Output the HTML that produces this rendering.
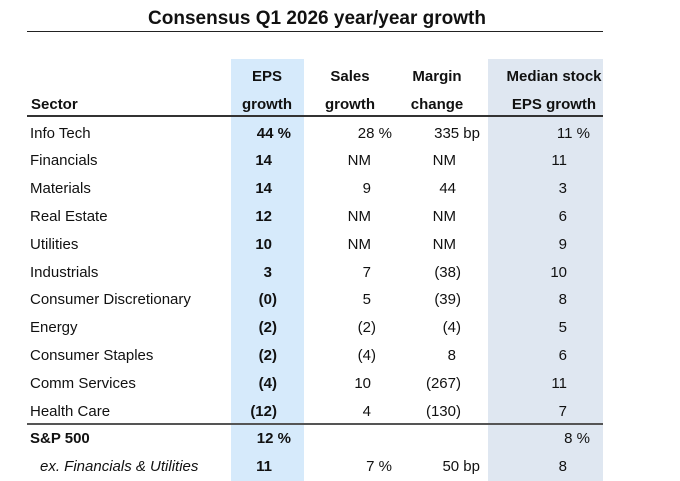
<!DOCTYPE html>
<html><head><meta charset="utf-8"><style>
body{margin:0;width:680px;height:481px;background:#fff;position:relative;overflow:hidden;font-family:"Liberation Sans",Arial,sans-serif;color:#111;font-size:15px}
.a{position:absolute;white-space:nowrap}
.r{position:absolute;white-space:nowrap;text-align:right}
.b{font-weight:bold}
.h{position:absolute;font-weight:bold;text-align:center;white-space:nowrap;font-size:15px}
</style></head><body>
<div class="a b" style="left:0;width:634px;text-align:center;top:8px;font-size:19px">Consensus Q1 2026 year/year growth</div>
<div class="a" style="left:27px;top:31px;width:576px;height:1px;background:#222"></div>
<div class="a" style="left:231px;top:59px;width:73px;height:422px;background:#d6eafb"></div>
<div class="a" style="left:488px;top:59px;width:115px;height:422px;background:#dfe7f1"></div>
<div class="h" style="left:227px;width:80px;top:68px">EPS</div>
<div class="h" style="left:227px;width:80px;top:96px">growth</div>
<div class="h" style="left:310px;width:80px;top:68px">Sales</div>
<div class="h" style="left:310px;width:80px;top:96px">growth</div>
<div class="h" style="left:397px;width:80px;top:68px">Margin</div>
<div class="h" style="left:397px;width:80px;top:96px">change</div>
<div class="h" style="left:494px;width:120px;top:68px">Median stock</div>
<div class="h" style="left:494px;width:120px;top:96px">EPS growth</div>
<div class="a b" style="left:31px;top:96px">Sector</div>
<div class="a" style="left:27px;top:115px;width:576px;height:2px;background:#333"></div>
<div class="a" style="left:27px;top:423px;width:576px;height:2px;background:#555"></div>
<div id="rows"></div>
<script>
var rows=[
["Info Tech","44 %","28 %","335 bp","11 %"],
["Financials","14","NM","NM","11"],
["Materials","14","9","44","3"],
["Real Estate","12","NM","NM","6"],
["Utilities","10","NM","NM","9"],
["Industrials","3","7","(38)","10"],
["Consumer Discretionary","(0)","5","(39)","8"],
["Energy","(2)","(2)","(4)","5"],
["Consumer Staples","(2)","(4)","8","6"],
["Comm Services","(4)","10","(267)","11"],
["Health Care","(12)","4","(130)","7"]];
var edges=[272,371,456,567],pct=[291,392,480,590];
var out="";
function cell(v,i,y,bold){
 if(v==="")return;
 var e=edges[i];
 if(/%|bp/.test(v))e=pct[i];else if(v.indexOf(")")>=0)e+=5;
 out+='<div class="r'+(bold?' b':'')+'" style="right:'+(680-e)+'px;top:'+y+'px">'+v+'</div>';
}
rows.forEach(function(r,k){
 var y=124.5+k*27.8;
 out+='<div class="a" style="left:30px;top:'+y+'px">'+r[0]+'</div>';
 for(var i=1;i<5;i++)cell(r[i],i-1,y,i==1);
});
out+='<div class="a b" style="left:30px;top:430px">S&amp;P 500</div>';
cell("12 %",0,430,true);cell("8 %",3,430,false);
out+='<div class="a" style="left:40px;top:458px;font-style:italic">ex. Financials &amp; Utilities</div>';
cell("11",0,458,true);cell("7 %",1,458);cell("50 bp",2,458);cell("8",3,458);
document.getElementById("rows").innerHTML=out;
</script>
</body></html>
